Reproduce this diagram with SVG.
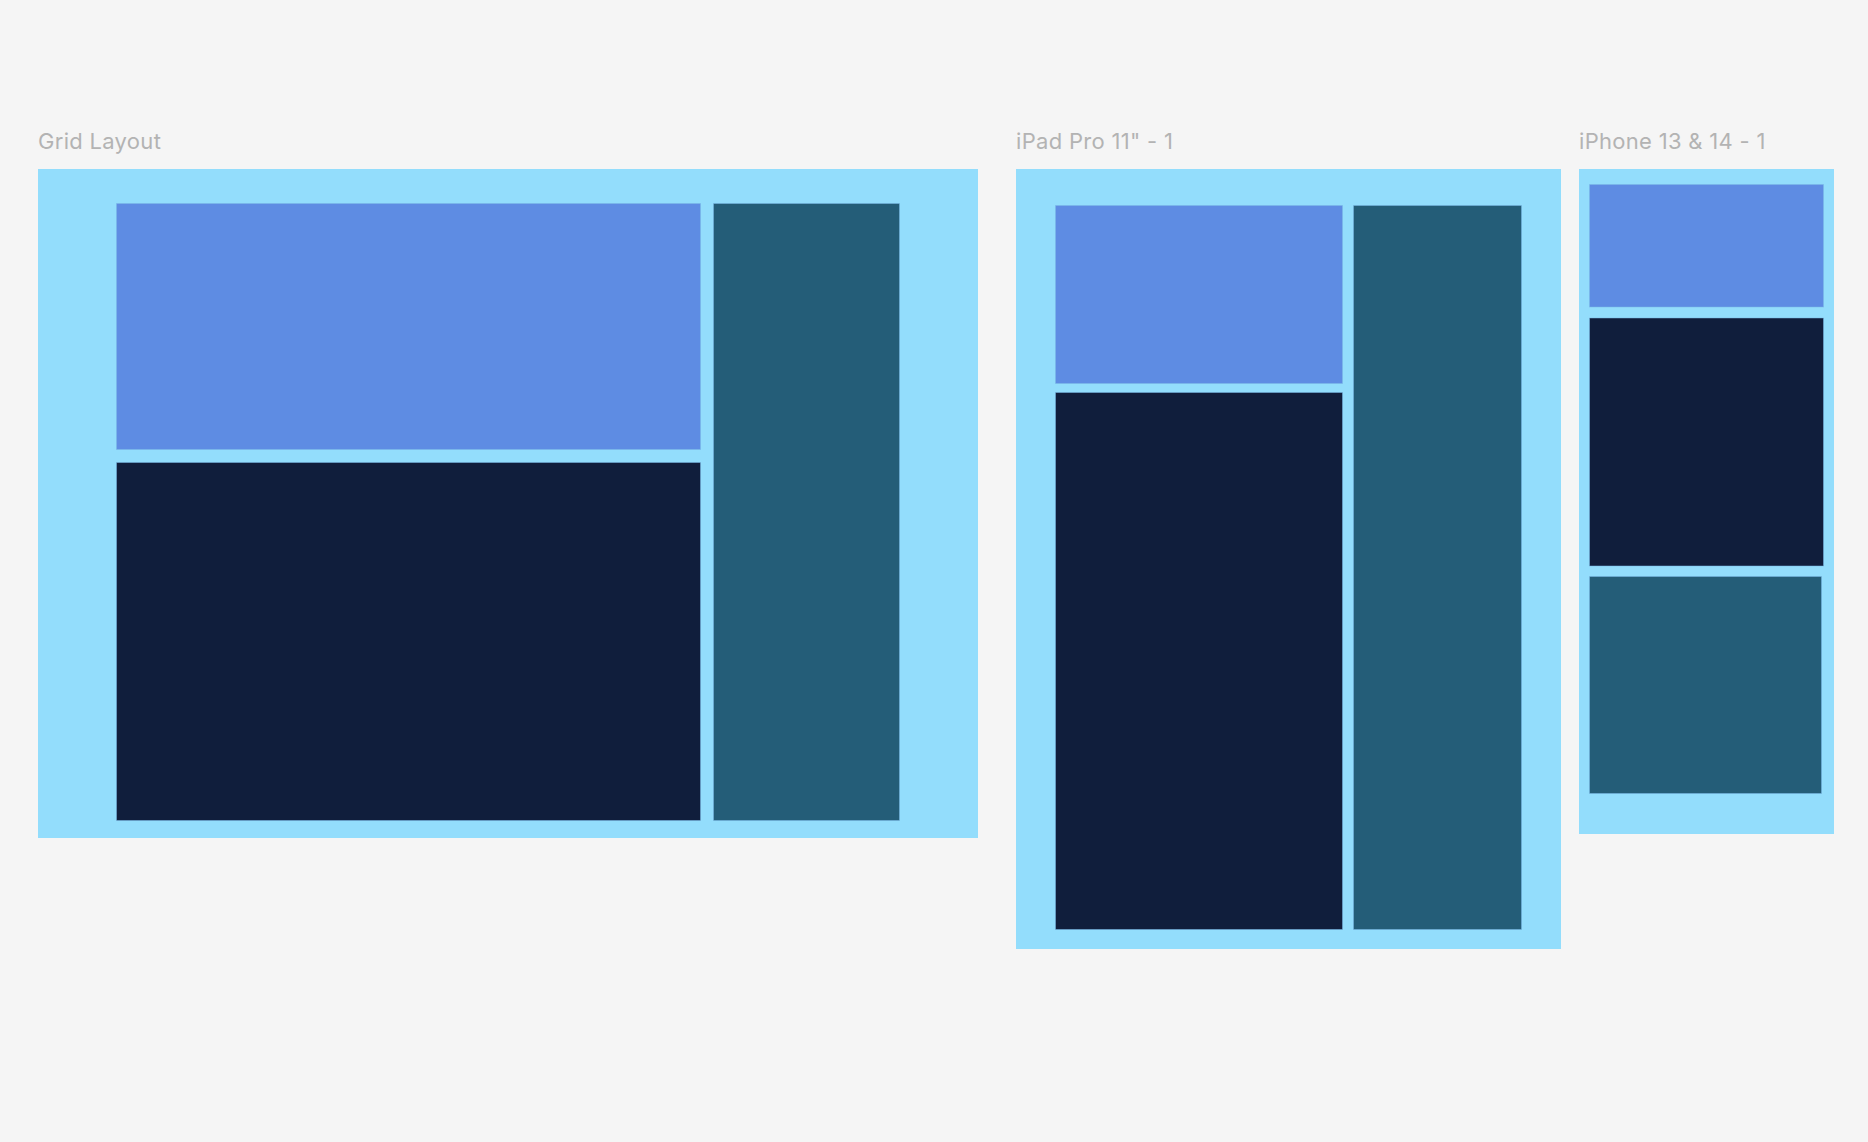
<svg xmlns="http://www.w3.org/2000/svg" width="1868" height="1142" viewBox="0 0 1868 1142">
<style>
.bg{fill:#f5f5f5}
.frame{fill:#93ddfc}
.lbl{font-family:Inter,"Liberation Sans",sans-serif;font-size:22px;letter-spacing:0.3px;fill:#b3b3b3}
.blue{fill:#5e8ce3}
.dark{fill:#101e3c}
.teal{fill:#245d78}
.cell{stroke:#7ab8e6;stroke-opacity:0.5;stroke-width:1}
</style>
<rect class="bg" x="0" y="0" width="1868" height="1142"/>
<g id="grid-layout">
<text class="lbl" x="38" y="149">Grid Layout</text>
<rect class="frame" x="38" y="169" width="940" height="669"/>
<rect class="blue cell" x="116.5" y="203.5" width="584" height="246"/>
<rect class="dark cell" x="116.5" y="462.5" width="584" height="358"/>
<rect class="teal cell" x="713.5" y="203.5" width="186" height="617"/>
</g>
<g id="ipad-pro">
<text class="lbl" x="1016" y="149">iPad Pro 11" - 1</text>
<rect class="frame" x="1016" y="169" width="545" height="780"/>
<rect class="blue cell" x="1055.5" y="205.5" width="287" height="178"/>
<rect class="dark cell" x="1055.5" y="392.5" width="287" height="537"/>
<rect class="teal cell" x="1353.5" y="205.5" width="168" height="724"/>
</g>
<g id="iphone">
<text class="lbl" x="1579" y="149">iPhone 13 &amp; 14 - 1</text>
<rect class="frame" x="1579" y="169" width="255" height="665"/>
<rect class="blue cell" x="1589.5" y="184.5" width="234" height="122.5"/>
<rect class="dark cell" x="1589.5" y="318" width="234" height="248"/>
<rect class="teal cell" x="1589.5" y="576.5" width="232" height="217"/>
</g>
<g id="connectors"/>
</svg>
